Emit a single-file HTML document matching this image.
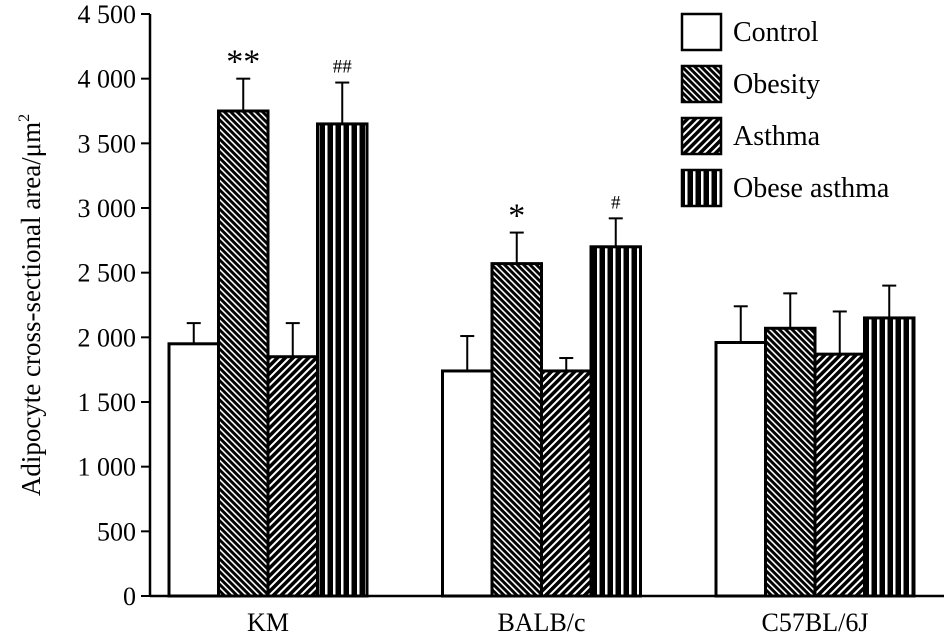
<!DOCTYPE html>
<html><head><meta charset="utf-8"><style>
body{margin:0;background:#fff}
svg{display:block;font-family:"Liberation Serif",serif}
</style></head><body>
<svg width="944" height="637" viewBox="0 0 944 637">
<defs>
<pattern id="pObes" width="4.5" height="4.5" patternUnits="userSpaceOnUse" patternTransform="rotate(-45)">
<rect width="4.5" height="4.5" fill="#000"/><rect x="0" y="0" width="1.6" height="4.5" fill="#fff"/></pattern>
<pattern id="pAsth" width="5.5" height="5.5" patternUnits="userSpaceOnUse" patternTransform="rotate(45)">
<rect width="5.5" height="5.5" fill="#000"/><rect x="0" y="0" width="2" height="5.5" fill="#fff"/></pattern>
<pattern id="pOA" width="8" height="8" patternUnits="userSpaceOnUse">
<rect width="8" height="8" fill="#000"/><rect x="5" y="0" width="2.5" height="8" fill="#fff"/></pattern>
</defs>
<g id="axes"></g><g id="bars"></g><g id="legend"></g>
<text x="-305" y="40" transform="rotate(-90)" text-anchor="middle" font-size="27">Adipocyte cross-sectional area/μm<tspan dy="-11" font-size="16">2</tspan></text>
</svg>
<script>
const categories=["KM","BALB/c","C57BL/6J"];
const seriesNames=["Control","Obesity","Asthma","Obese asthma"];
const control=[1950,1740,1960];
const obesity=[3750,2570,2070];
const asthma=[1850,1740,1870];
const obeseAsthma=[3650,2700,2150];
const controlErr=[2110,2010,2240];
const obesityErr=[4000,2810,2340];
const asthmaErr=[2110,1840,2200];
const obeseAsthmaErr=[3970,2920,2400];
const marks=[["","",""],["**","*",""],["","",""],["##","#",""]];
const yTicks=[0,500,1000,1500,2000,2500,3000,3500,4000,4500];
const yTickLabels=["0","500","1 000","1 500","2 000","2 500","3 000","3 500","4 000","4 500"];
const NS="http://www.w3.org/2000/svg";
const x0=150,y0=596,yTop=14,yMax=4500;
const y=v=>y0-(v/yMax)*(y0-yTop);
const groupC=i=>268+i*273.5;
const bw=49.5;
function mk(tag,attrs,parent){const e=document.createElementNS(NS,tag);for(const k in attrs)e.setAttribute(k,attrs[k]);parent.appendChild(e);return e;}
const ax=document.getElementById('axes'),bg=document.getElementById('bars'),lg=document.getElementById('legend');
let l=mk('line',{x1:x0,y1:yTop,x2:x0,y2:y0,stroke:'#000','stroke-width':2.5},ax);


l=mk('line',{x1:x0,y1:y0,x2:944,y2:y0,stroke:'#000','stroke-width':2.5},ax);


yTicks.forEach((v,i)=>{
 mk('line',{x1:x0-9,y1:y(v),x2:x0,y2:y(v),stroke:'#000','stroke-width':2},ax);
 const t=mk('text',{x:x0-14,y:y(v)+9,'text-anchor':'end','font-size':26},ax);
 t.textContent=yTickLabels[i];
 
 
});
categories.forEach((c,i)=>{
 const t=mk('text',{x:groupC(i),y:631,'text-anchor':'middle','font-size':26},ax);
 t.textContent=c;
 
 
});
const series=[control,obesity,asthma,obeseAsthma];
const errs=[controlErr,obesityErr,asthmaErr,obeseAsthmaErr];
const fills=['#fff','url(#pObes)','url(#pAsth)','url(#pOA)'];
categories.forEach((c,i)=>{
 series.forEach((s,j)=>{
  const bx=groupC(i)-2*bw+j*bw;
  const ex=bx+bw/2;
  const e=errs[j][i];
  mk('line',{x1:ex,y1:y(s[i]),x2:ex,y2:y(e),stroke:'#000','stroke-width':2},bg);
  mk('line',{x1:ex-7,y1:y(e),x2:ex+7,y2:y(e),stroke:'#000','stroke-width':2},bg);
  const r=mk('rect',{x:bx,y:y(s[i]),width:bw,height:y0-y(s[i]),fill:fills[j],stroke:'#000','stroke-width':3},bg);
  
  
  if(marks[j][i]){
   const star=marks[j][i].includes('*');
   const t=mk('text',{x:ex,y:y(e)-(star?6:10),'text-anchor':'middle','font-size':star?34:19},bg);
   t.textContent=marks[j][i];
   
   
  }
 });
});
seriesNames.forEach((n,j)=>{
 const yy=14+j*52;
 const r=mk('rect',{x:682,y:yy,width:39,height:36,fill:fills[j],stroke:'#000','stroke-width':2.5},lg);
 
 
 const t=mk('text',{x:733,y:yy+27,'font-size':28},lg);
 t.textContent=n;
 
 
});
</script>
</body></html>
